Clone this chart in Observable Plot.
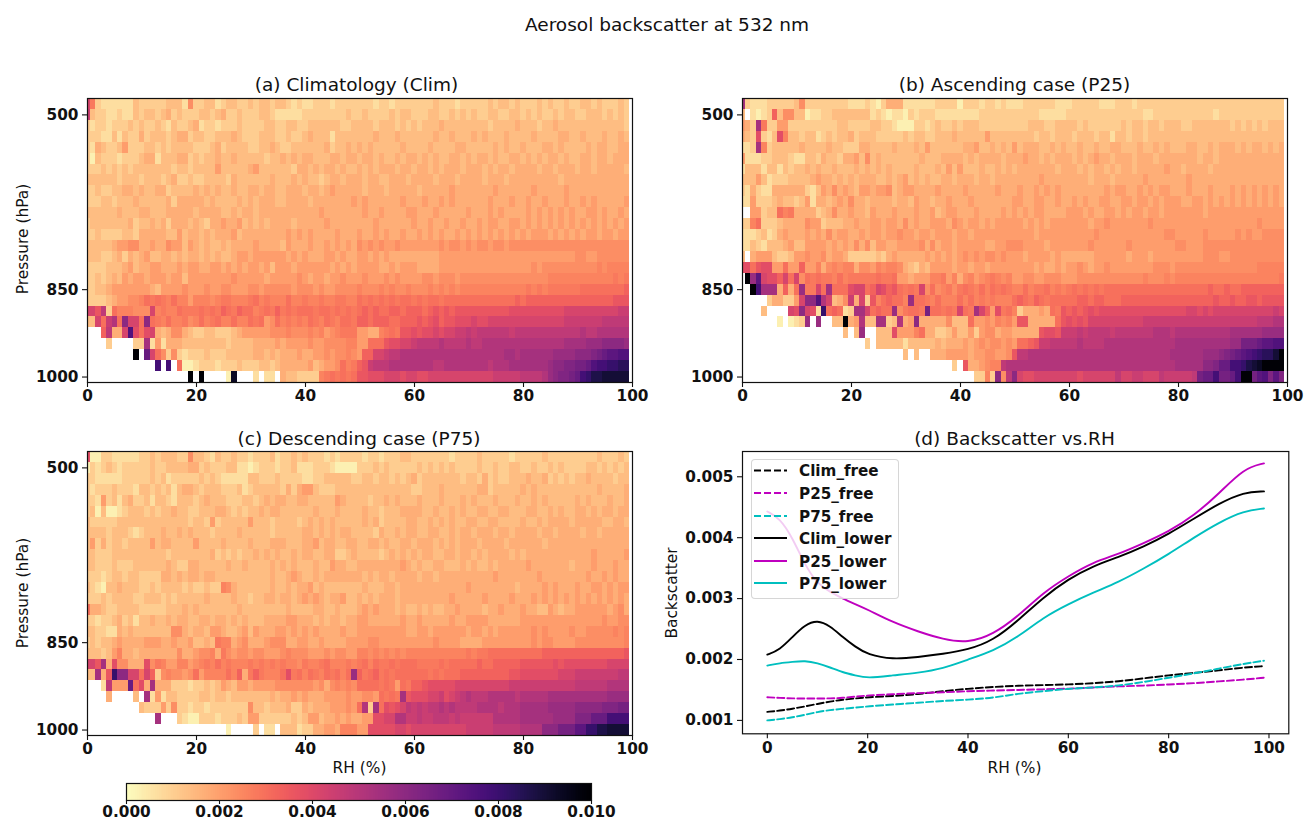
<!DOCTYPE html>
<html><head><meta charset="utf-8">
<script src="https://cdn.jsdelivr.net/npm/d3@7"></script>
<script src="https://cdn.jsdelivr.net/npm/@observablehq/plot@0.6"></script>
<style>
html,body{margin:0;padding:0;background:#fff}
#fig{position:relative;width:1304px;height:820px;overflow:hidden;font-family:"DejaVu Sans",sans-serif;color:#111}
#fig svg{overflow:visible}
.p{position:absolute}
.t{position:absolute;white-space:nowrap;transform:translate(-50%,-50%)}
.r{transform:translate(-50%,-50%) rotate(-90deg)}
#legend{position:absolute;box-sizing:border-box;background:rgba(255,255,255,.8);border:1px solid rgba(204,204,204,.8);border-radius:4px}
</style></head><body><div id="fig"></div>
<script>
// each character is one cell, a base-36 level read by eye; "." = no data. Rows run from the top row down.
const climRows = [
"e932222224 3333344427 3344234433 4344344323 2233323333 3332332333 3333433323 3333434434 3334343343 3443433343",
"f433223224 3443453433 3443453343 3344322222 3333333343 3433334344 3334433434 3433443344 3434334344 3344434343",
"3233233343 4334324334 5233233343 3334433443 3444444334 4443444343 4344454444 4444344445 4443445444 4444444443",
"3332242433 5344434553 4433444543 3344433433 4544424444 4445444544 4444544544 4545444544 4454444554 4544454454",
"3254334633 3443434444 3334534444 3344543344 4444534454 5454444454 4445444455 4444454544 5444554544 4454554455",
"3143332333 4552444553 4344544544 4443445454 5544455455 4554544545 5454544554 5455454455 4545455454 4554554555",
"3334343434 4444443443 4444644444 5644444435 5454554544 5454555455 4554545554 5554545545 5554554555 4554555554",
"4444443444 3444345334 3344443544 4444544454 5443455455 5455445554 5555455545 5554555455 5555555455 5555555555",
"3343344554 5445534444 5454544544 5545544555 4554565555 5455545555 5455555655 5555565555 5565555565 5555555555",
"3334434445 4444453555 5545444454 5455544555 5455555556 5655555565 5565565655 5555655565 5655655565 5656555556",
"4444445444 5544455555 4555544545 5455555555 5556555555 5655655556 6555655555 6555656555 5656565656 5566565565",
"3444444453 4454535554 5435565564 5454555545 5555655555 5556555555 6556556556 5565665566 5656565656 5656565656",
"3343333443 5555544645 5454555645 5555555656 5655556555 6556565565 5656565565 6565656565 6566656565 6566566566",
"4444456677 5565576646 5454454555 5655554655 5655656565 7676766766 6666676776 7677677677 7777777777 7777777777",
"4443345354 5644554545 5454544566 5666666565 6555665655 6656565555 5555566666 6666666666 6666666666 7766777777",
"3333444564 5566555656 6556656565 6656466656 6666656565 6666556566 6555566666 6666666666 6676777777 7777878888",
"3343454656 6566656646 6666666766 6665666667 6566566766 6766676766 6677677767 7777777777 7777788888 8888888989",
"3344566666 6654666676 6676677666 7767777767 7767667777 8777878778 7778787878 8888888888 8989899999 9aaaaaaaab",
"3333456677 8a9a98a886 8887899888 9a89888a88 9889889988 a9a9a9a9aa 9a9aa9aaaa aaaaaaaaab abbbbbbbbb bbbbbbbccc",
"eecg3a8887 77e8988a99 9a9a9ba9ba a89a9b9a9a aa9aa9a9a9 ababaabbab bbabcbcbcc ccccccccdd ddddddddee eeeeeeeeff",
"44eafhakee aka98a8897 8a89a88a88 a9a67a8989 8a98a98aa9 bbabbbaabb bcbcdbccdd deddeeeeee eeeeeeeeff fffffggggg",
"...bg55epd ade5457754 3344333456 6666777877 7878678999 665589a9cc dcddedeeff gfggggggfg gggggggggg ghgghhhhhh",
"....3....3 3i26255544 4444443444 4555565666 6766777788 66aaacddee fgggghgggg hgghhhhhhh hhhhhhhhii iijjjkkkkj",
".........x .nea737323 3343334444 4554545556 5566767787 6bbeefgghh hhhhhhhhhh hhhhhhhiih iiiiiijjjj kkklmnoopp",
".......... ...q.q.a11 2333233343 3344345555 5645667a89 bcfggghhhh hhhhgghhhh hhhhghhhii iiiiijkkll mmnpqqrrss",
".......... .........x .x....1v.. .2.22.5443 33389a9a9a ccdddeeede eddeeeeeee eeeeefffff gggghjkllm nqrttuuuuu"
];
const p25Rows = [
"i322233333 4733333333 2223213555 2222223333 1333233232 2233333322 2333332223 3323333333 3333333333 3333333333",
"4.2123b477 4412233444 4444232122 1323332222 2222333333 3333322222 3333333333 3333223333 3333333233 3333333333",
"653i933663 3333333344 3333443321 1133234334 3444333333 3334443344 4434333333 4344344344 4334444444 3434343444",
"543d324d84 4344234344 5344433333 4344334445 4444464444 4444344344 4344434424 4344344444 4444444444 4444444444",
"223i834444 4544445443 3355444454 4454644444 4556445454 6455544545 4454454455 4445445454 4455445455 5454554545",
"6222334443 2244354435 5647454444 4445444555 5454555545 5565545455 5454565545 5545554555 5555455455 5555555555",
"2444244243 4454544544 4545454544 4454445464 6444544545 4555555545 5545455454 5545555565 5455554555 5555555555",
"4446423334 4445655454 5455544545 6454544554 5554554555 5555565555 5555455545 5555655555 5565555555 5555555555",
"3253225555 5532465756 5466566745 6655556555 5655555655 5655656565 5555555656 6556565665 5565556555 6565656565",
"2263334544 3462554565 7554555545 5465545565 5565555555 6655665565 5656556655 6656656566 6556656565 6565656565",
"..66344a89 5555345755 6554655565 5565564566 5556555565 6565665555 6665655665 6566566566 6666656666 6666666666",
"338a333455 5576634445 5655665665 7565566657 6566565666 6656565666 6666566766 6666676666 6666666666 6666676666",
"2223423565 5565657566 5565665667 6656656665 6656666666 6666566666 6666676666 6666666677 6666676666 6767667777",
"2243244456 4466665656 5757466556 6667575665 6666655667 7766665666 6666766666 6766666666 7766677777 7777777777",
"4.56664334 6676675665 3333343565 5555656565 6767677676 6656666565 5555566666 6566656666 6666677766 7777777777",
"ddacdd66a6 6b66857878 8577687887 5435466665 6656656666 6666565565 6676566766 6666667776 7777777777 7777788888",
".xjoeddbea e7a9a998a8 99999a99a6 6566688968 5786789878 6677667776 6677777777 7777877787 8888888888 8888888889",
"..xqiii5b5 aj99eaiaaa deeabedbca 9a9e7a7897 9a98a8a9a9 88a899a898 9a9a9a9aaa aaaaaaaaaa aaaaaabaab aabbbbbbbb",
".....35533 6ekkphe457 f5e3c8abaa 8jaa98a888 a8a8989888 aba9ba9aaa aabbabbaaa bbbbbbbbbb bbbbbbbcbb cbbccbcccc",
"....4....e dked2raba2 3iieabaaj7 9aa9maa9a9 ea9ieb6d9a 8355565a9c bcbcdcdddd dddddddddd ddeededeee eeeeeeeefe",
".......1.1 23j.j..44x 56h44ii34h 56k5555574 44a6676878 6cc55555ac dcdceeeeee eeeeffffff ffffffffff fffffggghh",
".......... .........4 .4j..444d6 668a553346 4463677566 55555cddcf ffgfggggfg gggggghhhg hhhhhhhhhh iiiiiijjjj",
".......... .......... ...3.44444 2444445455 5656767767 6aabcffggg gghgggghhh hhhhhhhhhh iiiiiiiiii jjmmmnoopp",
".......... .......... .......... 4.4..55566 6656677667 cgghhhhhhh hhhhhhhhhh hhhhhhhhhi iiiiijjjkl mnopqrssux",
".......... .......... .......... .........3 .c556788gh hhhhhhhhhh hhhhhhhhhh hhhhhhhhhh iiiiikklnn qqrtuvxxxx",
".......... .......... .......... .......... ...3383k7g keddeeeeee eedeeeeeeg eeffeeegff fffgmnnqmm nqxxmoplol"
];
const p75Rows = [
"d113322222 3343444337 4432433433 2333423343 4333232333 3233233344 3333333233 3343333323 3333433333 3333433343",
"1323432333 3343344445 5343334422 1233323342 2233321111 3334343333 3434343433 3343343344 3343343433 3344343434",
"3322222333 3343423333 3434322222 4433343333 2233444443 3443443434 5344444443 4435343344 4544534343 4454444344",
"3233343332 4434342455 4344433342 3444443535 6643334444 4444444444 3344454444 4455344444 5454444444 4444544445",
"3326342453 3424432444 3454443334 4345455445 5444446544 4434454544 4544454445 4544454445 4454544444 5454445445",
"3414112344 4343445443 3444554343 4454554444 4454445444 4544344455 5544544545 4455445544 4554454544 5545455455",
"4333334444 4444444443 4436344444 6444344443 4545454444 4545344445 5445454544 5544554444 5445455554 5555544554",
"4444344432 3444544545 4443444454 4444344444 5545454554 4443544545 5445544545 5455545545 5554554555 5455455555",
"4635344344 4464554444 6444454444 5444555444 5564554455 4455454455 4555454545 5545555455 5555455555 5555555555",
"4433344444 4444434444 4445343434 4545454454 5544553345 4444345454 5455445545 5454555545 4555555555 5556555556",
"4433343334 4444454335 5444445445 4444545454 4454465544 5555555565 4544554445 4544545555 5655555554 5556555655",
"3332344344 3333554545 5455444444 4444544565 4454555555 5454554555 5455455555 5555565555 5556555555 5565565655",
"4321445444 3343444434 3343387544 4444544545 5645444444 4544455455 5555555555 6555555554 5555656555 6556656566",
"3334344443 3444343444 4454444544 3445545545 6565455644 5454555455 5555555655 5556555565 5565656565 6565656565",
"a554334444 3333344454 5444444454 4444444544 4455445444 5656555454 4545445565 5554556555 6554465455 6666665675",
"3323345342 4454454554 4554554545 4445555665 5545455455 6655555565 5655555655 6666555555 6666666666 6666676677",
"4433225454 4444447754 5546654456 4655566565 6565555655 6666666665 5665666666 5665656666 6676766667 6677777878",
"3434456555 5666556556 4454988567 5556777556 6556555566 6677666666 6666766665 5556666666 6676776666 7777777778",
"4443468554 5555555755 6778597677 6776667877 7666767766 8878787878 8888888888 9899aaaaaa aaaabbbbbb bbbbbbbbbc",
"eeci5d7755 5d79866886 7898a89888 9898989887 9889a88898 9a8a99a9aa a9999a9aaa aabaabbbbb ccccccdcdd ddddddeeee",
"44i5crkkee aeb3787767 a68888a8b5 9b9888ad9a 8a98a9a8aj b9ab9a9aaa aaa9a9aaab bbbbbbbbcc dddddddeee ffffffffgg",
"...2g666na d5i5553332 3343465466 5666677777 7767578787 aaaa9a96a9 bbcdddddee eeeeeeeeff ffffffffff gggggghhhh",
"....5....4 .i26244333 3443443444 4444545565 6555666676 6776a9a9ic dddeefdefg hggghhhhhg hhhhhiiiii iiiiiijjjj",
".......... 4333637332 3323333333 7443444533 5455566676 ah3iadcdeg fgfgghghgg gghhhhghhh iiiiijjjjj kkkkklllmm",
".......... ...i...321 1333233343 6633333343 4664556565 566ddeehhf fgffgggfgf fffffhhhhh iiiiiijjjj lllnnnqqqq",
".......... .......... ......1... .3.22.4442 3355665888 66dddddeed eeeeeeeeee fffffggggg hhhhkkkmmm oorrttuuuu"
];
// backscatter of levels 0-9; higher levels are level x levelStep
const lowLevels = [0,.0003,.0007,.00105,.0014,.0017,.00205,.00235,.0026,.0028];
const levelStep = 0.0003;
const pressureTickRows = [0, 8, 24];
const pressureTickLabels = ["1000", "850", "500"];
const rhTicks = [0, 20, 40, 60, 80, 100];

const rhSamples = [0,2.5,5,7.5,10,12.5,15,17.5,20,25,30,35,40,45,50,55,60,65,70,75,80,85,90,95,99];
const climFree  = [.00114,.00116,.00119,.00123,.00127,.00131,.00134,.00136,.00138,.0014,.00143,.00148,.00152,.00155,.00157,.00158,.00159,.00161,.00164,.00169,.00174,.00178,.00182,.00187,.00189];
const p25Free   = [.00138,.00137,.00136,.00136,.00136,.00136,.00137,.00139,.00141,.00143,.00145,.00146,.00148,.00149,.0015,.00151,.00152,.00154,.00156,.00157,.00159,.00161,.00164,.00167,.0017];
const p75Free   = [.001,.00102,.00105,.00109,.00114,.00117,.00119,.00121,.00123,.00126,.00129,.00132,.00134,.00137,.00144,.00148,.00152,.00154,.00157,.00163,.0017,.00177,.00185,.00193,.00198];
const climLower = [.00208,.00216,.00237,.00257,.00265,.00255,.00237,.00221,.00208,.002,.00204,.00209,.00216,.00231,.00264,.00302,.00332,.00354,.00368,.00385,.00406,.00431,.00456,.00475,.00476];
const p25Lower  = [.00443,.00432,.004,.00355,.00324,.00311,.003,.00291,.00282,.00261,.00246,.00233,.00227,.00241,.00271,.0031,.00337,.0036,.00373,.00391,.0041,.00436,.00472,.00514,.00522];
const p75Lower  = [.0019,.00194,.00196,.00198,.00194,.00187,.00179,.00174,.00169,.00174,.00178,.00185,.002,.00214,.00237,.00269,.00291,.0031,.00327,.00349,.00373,.004,.00425,.00444,.00448];
const lineNames  = ["Clim_free","P25_free","P75_free","Clim_lower","P25_lower","P75_lower"];
const lineValues = [climFree,p25Free,p75Free,climLower,p25Lower,p75Lower];
const lineColors = ["#000000","#bf00bf","#00bfbf","#000000","#bf00bf","#00bfbf"];
const lineDashed = [true,true,true,false,false,false];
const backscatterTicks = [.001,.002,.003,.004,.005];
const colorTicks = [0,.002,.004,.006,.008,.01];

const fig = document.getElementById("fig");
const color = {type:"linear", scheme:"magma", reverse:true, domain:[0,.01], clamp:true};
const tickStyle = {fontFamily:"DejaVu Sans", fontSize:"15.3px", fontWeight:"bold", color:"#111", background:"transparent", overflow:"visible"};
function place(el,left,top){ el.classList.add("p"); el.style.left=left+"px"; el.style.top=top+"px"; fig.appendChild(el); }
function text(s,x,y,size,cls){ const d=document.createElement("div"); d.className="t "+(cls||""); d.textContent=s; d.style.left=x+"px"; d.style.top=y+"px"; d.style.fontSize=size+"px"; fig.appendChild(d); }
function levelValue(c){ const n=parseInt(c,36); return n<lowLevels.length?lowLevels[n]:n*levelStep; }

function cells(rows){
  const out=[];
  rows.forEach((row,k)=>{
    const r=rows.length-1-k;
    [...row.replace(/ /g,"")].forEach((c,i)=>{
      if(c===".")return;
      out.push({x1:Math.max(0,i-.5),x2:i+.5,y1:r-.5,y2:r+.5,v:levelValue(c)});
    });
  });
  return out;
}
function heat(rows,left,top){
  const ml=87,mr=16,mt=20,mb=32;
  const plot=Plot.plot({
    width:545+ml+mr,height:284+mt+mb,marginLeft:ml,marginRight:mr,marginTop:mt,marginBottom:mb,
    style:tickStyle,
    x:{domain:[0,100],axis:null}, y:{domain:[-.5,25.5],axis:null}, color,
    marks:[
      Plot.rect(cells(rows),{x1:"x1",x2:"x2",y1:"y1",y2:"y2",fill:"v",shapeRendering:"crispEdges"}),
      Plot.frame({stroke:"#111",strokeWidth:1.2}),
      Plot.axisX({ticks:rhTicks,tickSize:5,tickPadding:3,label:null,tickFormat:d=>d,strokeWidth:1.1}),
      Plot.axisY({ticks:pressureTickRows,tickSize:5,tickPadding:4,label:null,strokeWidth:1.1,
        tickFormat:d=>pressureTickLabels[pressureTickRows.indexOf(d)]})
    ]
  });
  place(plot,left-ml,top-mt);
}
heat(climRows,87,97.5);
heat(p25Rows,742,97.5);
heat(p75Rows,87,451);

// panel d
const lineData=[];
lineNames.forEach((n,j)=>rhSamples.forEach((x,i)=>lineData.push({x,y:lineValues[j][i],n})));
{
  const ml=90,mr=10,mt=20,mb=32;
  const plot=Plot.plot({
    width:546.3+ml+mr,height:282.3+mt+mb,marginLeft:ml,marginRight:mr,marginTop:mt,marginBottom:mb,
    style:tickStyle,
    x:{domain:[-4.95,103.95],axis:null}, y:{domain:[.00078,.005415],axis:null},
    marks:[
      ...lineNames.map((n,j)=>Plot.line(lineData.filter(d=>d.n===n),{x:"x",y:"y",stroke:lineColors[j],strokeWidth:1.9,
        curve:"basis",strokeDasharray:lineDashed[j]?"7 3":null})),
      Plot.frame({stroke:"#111",strokeWidth:1.2}),
      Plot.axisX({ticks:rhTicks,tickSize:5,tickPadding:3,label:null,tickFormat:d=>d,strokeWidth:1.1}),
      Plot.axisY({ticks:backscatterTicks,tickSize:5,tickPadding:4,label:null,strokeWidth:1.1,tickFormat:d=>d.toFixed(3)})
    ]
  });
  place(plot,741.7-ml,451-mt);
}
// legend
{
  const box=document.createElement("div"); box.id="legend";
  box.style.cssText="left:750.5px;top:459px;width:148px;height:139.5px";
  fig.appendChild(box);
  const rowY=[470.5,493,516,538,561,583];
  const ns="http://www.w3.org/2000/svg";
  const s=document.createElementNS(ns,"svg");
  s.setAttribute("width",1304);s.setAttribute("height",820);s.style.cssText="position:absolute;left:0;top:0";
  lineNames.forEach((n,j)=>{
    const l=document.createElementNS(ns,"line");
    l.setAttribute("x1",754);l.setAttribute("x2",787);l.setAttribute("y1",rowY[j]);l.setAttribute("y2",rowY[j]);
    l.setAttribute("stroke",lineColors[j]);l.setAttribute("stroke-width",1.9);
    if(lineDashed[j])l.setAttribute("stroke-dasharray","7 3");
    s.appendChild(l);
    const t=document.createElementNS(ns,"text");
    t.setAttribute("x",799);t.setAttribute("y",rowY[j]+5.5);
    t.setAttribute("font-family","DejaVu Sans");t.setAttribute("font-size",15.2);t.setAttribute("font-weight","bold");t.setAttribute("fill","#111");
    t.textContent=n; s.appendChild(t);
  });
  fig.appendChild(s);
}
// colour bar
{
  const ml=30,mr=30,mt=4,mb=20;
  const steps=d3.range(0,256).map(i=>({a:i/256*.01,b:(i+1)/256*.01}));
  const plot=Plot.plot({
    width:465+ml+mr,height:17+mt+mb,marginLeft:ml,marginRight:mr,marginTop:mt,marginBottom:mb,
    style:tickStyle,
    x:{domain:[0,.01],axis:null}, y:{domain:[0,1],axis:null}, color,
    marks:[
      Plot.rect(steps,{x1:"a",x2:"b",y1:0,y2:1,fill:d=>(d.a+d.b)/2,shapeRendering:"crispEdges"}),
      Plot.frame({stroke:"#111",strokeWidth:1.2}),
      Plot.axisX({ticks:colorTicks,tickSize:4,tickPadding:2,label:null,tickFormat:d=>d.toFixed(3),strokeWidth:1.1})
    ]
  });
  place(plot,126-ml,783-mt);
}
text("Aerosol backscatter at 532 nm",667,23.5,18.5);
text("(a) Climatology (Clim)",356.5,84,18.5);
text("(b) Ascending case (P25)",1014.5,84,18.5);
text("(c) Descending case (P75)",359,437.5,18.5);
text("(d) Backscatter vs.RH",1014.5,437.5,18.5);
text("Pressure (hPa)",23,239,15.4,"r");
text("Pressure (hPa)",23,593,15.4,"r");
text("Backscatter",672,593,15.4,"r");
text("RH (%)",359.5,768,15.4);
text("RH (%)",1014.5,768,15.4);
</script></body></html>
